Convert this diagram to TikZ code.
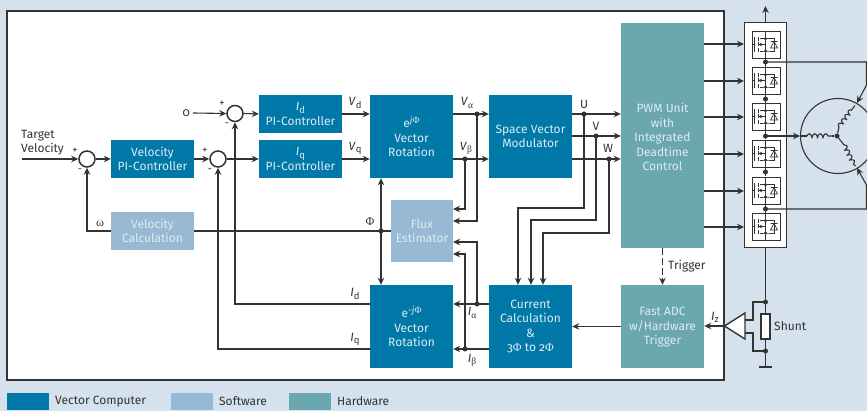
\documentclass[tikz,border=0pt]{standalone}
\usepackage{fontspec}
\setmainfont{Fira Sans}[Numbers=OldStyle]
\newfontfamily\grk{Liberation Serif}
\usetikzlibrary{arrows.meta,decorations.pathmorphing}
\definecolor{bgc}{HTML}{D5E1ED}
\definecolor{vecc}{HTML}{0078A8}
\definecolor{softc}{HTML}{98B9D3}
\definecolor{hardc}{HTML}{6BA7AE}
\definecolor{ink}{HTML}{333333}
\definecolor{paper}{HTML}{DCECF3}
\newcommand{\subsz}{\fontsize{9.5}{10}\selectfont}
\newcommand{\lab}[2]{\textit{#1}\raisebox{-.35ex}{\subsz #2}}
\newcommand{\Phic}{{\grk Φ}}
\tikzset{
 x=1pt,y=-1pt,
 blockbox/.style={inner sep=0pt,align=center,text=paper,font=\fontsize{12}{14.5}\selectfont},
 vecb/.style={blockbox,fill=vecc},
 softb/.style={blockbox,fill=softc},
 hardb/.style={blockbox,fill=hardc},
 conn/.style={draw=ink,line width=1.1pt,-{Stealth[length=7pt,width=6.5pt]}},
 wire/.style={draw=ink,line width=1.1pt},
 thin wire/.style={draw=ink,line width=.7pt},
 sumc/.style={circle,draw=ink,line width=1.5pt,fill=white,minimum size=16pt,inner sep=0pt},
 jdot/.style={circle,fill=ink,minimum size=5pt,inner sep=0pt},
 lbl/.style={text=ink,font=\fontsize{12}{14.5}\selectfont,inner sep=0pt},
 sgn/.style={text=ink,font=\fontsize{10.5}{11}\selectfont,inner sep=0pt},
 mosfet/.pic={
   \draw[thin wire,fill=white] (0,0) rectangle (28,27);
   \draw[thin wire] (13.5,0) -- (13.5,27);
   \draw[thin wire] (8,7.7) -- (13.5,7.7) -- (22,7.7) -- (22,20) -- (13.5,20) -- (8,20);
   \draw[thin wire] (6,6) -- (6,10) (6,11.5) -- (6,15.5) (6,17) -- (6,21);
   \draw[thin wire] (2,6) -- (2,21) (2,13.5) -- (0,13.5);
   \draw[thin wire,-{Stealth[length=3.5pt,width=3.5pt]}] (13.5,13.5) -- (6.5,13.5);
   \draw[thin wire] (18.5,17) -- (25.5,17) -- (22,10.5) -- cycle (18.5,10.5) -- (25.5,10.5);
   \fill[ink] (13.5,7.7) circle (1.6) (13.5,20) circle (1.6);
 }
}
\begin{document}
\begin{tikzpicture}
\useasboundingbox (0,0) rectangle (867,411);
\fill[bgc] (0,0) rectangle (867,411);
\draw[draw=ink,line width=1.2pt,fill=white] (7,11) rectangle (724,380);

% blocks
\node[vecb,minimum width=83pt,minimum height=38pt] (vpi) at (152.5,159) {Velocity\\PI-Controller};
\node[softb,minimum width=83pt,minimum height=38pt] (vcalc) at (152.5,231) {Velocity\\Calculation};
\node[vecb,minimum width=83pt,minimum height=38pt] (idpi) at (300.5,114) {\lab{I}{d}\\PI-Controller};
\node[vecb,minimum width=83pt,minimum height=38pt] (iqpi) at (300.5,159) {\lab{I}{q}\\PI-Controller};
\node[vecb,minimum width=83pt,minimum height=83pt] (rot) at (411.5,136.5) {e\raisebox{.7ex}{\subsz \textit{j}\Phic}\\Vector\\Rotation};
\node[vecb,minimum width=83pt,minimum height=83pt] (svm) at (530.5,136.5) {Space Vector\\Modulator};
\node[softb,minimum width=62pt,minimum height=62pt] (flux) at (422,231) {Flux\\Estimator};
\node[vecb,minimum width=83pt,minimum height=83pt] (irot) at (411.5,326.5) {e\raisebox{.7ex}{\subsz -\textit{j}\Phic}\\Vector\\Rotation};
\node[vecb,minimum width=83pt,minimum height=83pt] (cur) at (530.5,326.5) {Current\\Calculation\\\&\\3\Phic{} to 2\Phic};
\node[hardb,minimum width=83pt,minimum height=225pt] (pwm) at (662.5,135.5) {};
\node[blockbox] (pwmt) at (662.5,137) {PWM Unit\\with\\Integrated\\Deadtime\\Control};
\node[hardb,minimum width=83pt,minimum height=83pt] (adc) at (662.5,326.5) {};
\node[blockbox] (adct) at (662.5,327.5) {Fast ADC\\w/Hardware\\Trigger};

% summing points
\node[sumc] (s1) at (87,159) {};
\node[sumc] (s2) at (218,159) {};
\node[sumc] (s3) at (235,113.5) {};

% free ends and corners
\coordinate (tv) at (22,159);
\node[lbl,anchor=east] (zero) at (190,113) {0};

% forward paths
\draw[conn] (tv) -- (s1.west);
\draw[conn] (s1.east) -- (vpi.west);
\draw[conn] (vpi.east) -- (s2.west);
\draw[conn] (s2.east) -- (iqpi.west);
\draw[conn] ([xshift=3pt]zero.east) -- (s3.west);
\draw[conn] (s3.east) -- (idpi.west);
\draw[conn] (idpi.east) -- (rot.west |- idpi.east);
\draw[conn] (iqpi.east) -- (rot.west |- iqpi.east);

% junctions
\node[jdot] (ja) at (477,114) {};
\node[jdot] (jb) at (465,159) {};
\node[jdot] (ju) at (584,114) {};
\node[jdot] (jv) at (596,136) {};
\node[jdot] (jw) at (609,159) {};
\node[jdot] (jphi) at (381,231) {};
\node[jdot] (jia) at (477,304) {};
\node[jdot] (jib) at (465,349) {};

\draw[conn] (rot.east |- ja) -- (svm.west |- ja);
\draw[conn] (rot.east |- jb) -- (svm.west |- jb);
\draw[conn] (svm.east |- ju) -- (pwm.west |- ju);
\draw[conn] (svm.east |- jv) -- (pwm.west |- jv);
\draw[conn] (svm.east |- jw) -- (pwm.west |- jw);

\coordinate (fa) at (453,221); \coordinate (fb) at (453,209);
\coordinate (fia) at (453,242); \coordinate (fib) at (453,254);
\draw[conn] (ja.center) -- (ja.center |- fa) -- (fa);
\draw[conn] (jb.center) -- (jb.center |- fb) -- (fb);
\draw[conn] (jia.center) -- (jia.center |- fia) -- (fia);
\draw[conn] (jib.center) -- (jib.center |- fib) -- (fib);
\draw[conn] (cur.west |- jia) -- (irot.east |- jia);
\draw[conn] (cur.west |- jib) -- (irot.east |- jib);

\coordinate (cu) at (518,208); \coordinate (cv) at (531,220); \coordinate (cw) at (543,233);
\draw[conn] (ju.center) -- (ju.center |- cu) -- (cu) -- (cu |- cur.north);
\draw[conn] (jv.center) -- (jv.center |- cv) -- (cv) -- (cv |- cur.north);
\draw[conn] (jw.center) -- (jw.center |- cw) -- (cw) -- (cw |- cur.north);

% feedback
\draw[conn] (vcalc.west) -- (s1.south |- vcalc.west) -- (s1.south);
\draw[wire] (vcalc.east) -- (flux.west);
\draw[conn] (jphi.center) -- (jphi.center |- rot.south);
\draw[conn] (jphi.center) -- (jphi.center |- irot.north);
\draw[conn] (irot.west |- jib) -- (s2.south |- jib) -- (s2.south);
\draw[conn] (irot.west |- jia) -- (s3.south |- jia) -- (s3.south);

% trigger & ADC
\draw[conn,dash pattern=on 7pt off 3pt] (pwm.south) -- (adc.north);
\draw[conn] (adc.west) -- (cur.east |- adc.west);

% bridge
\draw[draw=ink,line width=1pt,fill=white] (744,23) rectangle (786,248);
\coordinate (btop) at (765.5,23); \coordinate (bbot) at (765.5,248);
\coordinate (ptop) at (765.5,6);
\draw[conn] (btop) -- (ptop);
\foreach \yy in {31,67,103,140,177,213} { \pic at (752,\yy) {mosfet}; }
\foreach \yy in {58,94,130,167,204} { \draw[wire] (765.5,\yy) -- (765.5,\yy+9); }
\foreach \yy [count=\i] in {44,81,117,154,191,227} {
  \coordinate (gate\i) at (744,\yy);
  \draw[conn] (pwm.east |- gate\i) -- (gate\i);
}
\node[jdot] (b1) at (765.5,62) {};
\node[jdot] (b2) at (765.5,99) {};
\node[jdot] (b3) at (765.5,136) {};
\node[jdot] (b4) at (765.5,172) {};
\node[jdot] (b5) at (765.5,209) {};

% motor
\draw[draw=ink,line width=1.1pt] (838,136) circle (37.5);
\node[jdot] (star) at (837,136) {};
\coordinate (ca) at (807,136); \coordinate (cb) at (857,103); \coordinate (cc) at (857,168);
\draw[conn] (b3.center) -- (800,136);
\draw[wire] (800,136) -- (ca);
\draw[wire,decorate,decoration={coil,amplitude=2.2pt,segment length=5.5pt,aspect=0.4}] (ca) -- (832,136);
\draw[wire] (832,136) -- (star);
\draw[wire] (star) -- (839,127);
\draw[wire,decorate,decoration={coil,amplitude=2.2pt,segment length=5.5pt,aspect=0.4}] (839,127) -- (853,108);
\draw[wire] (star) -- (844,145);
\draw[wire,decorate,decoration={coil,amplitude=2.2pt,segment length=5.5pt,aspect=0.4}] (844,145) -- (854,165);
\draw[wire] (853,108) -- (855,105.5);
\draw[wire] (854,165) -- (855.5,166);
\draw[conn] (b1.center) -- (866.5,62) -- (866.5,85) -- (cb);
\draw[conn] (b5.center) -- (866.5,209) -- (866.5,185) -- (cc);

% shunt & amplifier
\coordinate (gnd) at (765.5,367);
\node[jdot] (st) at (765.5,302) {};
\node[jdot] (sb) at (765.5,351) {};
\draw[wire] (bbot) -- (gnd);
\draw[draw=ink,line width=1.1pt] (759,367) -- (772,367);
\node[draw=ink,line width=1.3pt,fill=white,minimum width=9pt,minimum height=25pt,inner sep=0pt] (shunt) at (765.5,326.5) {};
\draw[draw=ink,line width=1.4pt,fill=white] (724.5,326) -- (745,313) -- (745,339) -- cycle;
\coordinate (ampout) at (724.5,326);
\draw[wire] (745,320) -- (753,320) -- (753,302) -- (st.center);
\draw[wire] (745,333) -- (753,333) -- (753,351) -- (sb.center);
\draw[conn] (ampout) -- (adc.east |- ampout);

% labels
\node[lbl,anchor=west,align=left] (tvl) at (21,142.5) {Target\\Velocity};
\node[sgn] (p1) at (75,151) {+}; \node[sgn] (m1) at (80,171) {-};
\node[sgn] (p2) at (205,151) {+}; \node[sgn] (m2) at (210,171) {-};
\node[sgn] (p3) at (222,104) {+}; \node[sgn] (m3) at (227,125) {-};
\node[lbl] (lom) at (100,224) {\grk ω};
\node[lbl] (lphi) at (370,222) {\Phic};
\node[lbl] (lvd) at (355,103) {\lab{V}{d}};
\node[lbl] (lvq) at (355,148) {\lab{V}{q}};
\node[lbl] (lva) at (467,103) {\textit{V}\raisebox{-.35ex}{\subsz\grk α}};
\node[lbl] (lvb) at (466,148) {\textit{V}\raisebox{-.35ex}{\subsz\grk β}};
\node[lbl] (lu) at (584,104) {U};
\node[lbl] (lv) at (596,126) {V};
\node[lbl] (lw) at (608,148) {W};
\node[lbl] (lid) at (355,294) {\lab{I}{d}};
\node[lbl] (liq) at (355,339) {\lab{I}{q}};
\node[lbl] (lia) at (472,313) {\textit{I}\raisebox{-.35ex}{\subsz\grk α}};
\node[lbl] (lib) at (472,360) {\textit{I}\raisebox{-.35ex}{\subsz\grk β}};
\node[lbl] (liz) at (715,317) {\lab{I}{z}};
\node[lbl,anchor=west] (ltrig) at (668,266) {Trigger};
\node[lbl,anchor=west] (lshunt) at (774,326.5) {Shunt};

% legend
\node[fill=vecc,minimum width=42pt,minimum height=17pt,inner sep=0pt] (k1) at (28,401.5) {};
\node[fill=softc,minimum width=42pt,minimum height=17pt,inner sep=0pt] (k2) at (192,401.5) {};
\node[fill=hardc,minimum width=42pt,minimum height=17pt,inner sep=0pt] (k3) at (310,401.5) {};
\node[lbl,anchor=west] (t1) at (55,401.5) {Vector Computer};
\node[lbl,anchor=west] (t2) at (219,401.5) {Software};
\node[lbl,anchor=west] (t3) at (337,401.5) {Hardware};
\end{tikzpicture}
\end{document}
